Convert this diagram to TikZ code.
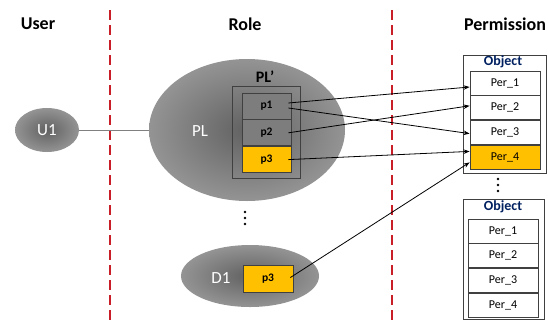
\documentclass[tikz,border=0pt]{standalone}
\usepackage{fontspec}
\setmainfont{Carlito}
\usetikzlibrary{shapes.geometric,arrows.meta,positioning}
\definecolor{permorange}{RGB}{255,192,0}
\definecolor{divred}{RGB}{200,30,40}
\definecolor{objblue}{RGB}{0,32,96}
\definecolor{boxgray}{RGB}{125,125,125}
\definecolor{edgegray}{RGB}{64,64,64}
\begin{document}
\begin{tikzpicture}[x=1pt, y=-1pt,
    head/.style = {font=\fontsize{18}{20}\selectfont\bfseries},
    divider/.style = {divred, line width=1.3pt, dash pattern=on 10pt off 5pt},
    roleell/.style = {ellipse, shading=radial, inner color=black!62, outer color=black!42, inner sep=0pt},
    whitelbl/.style = {text=white, font=\fontsize{17}{19}\selectfont},
    pbox/.style = {draw=edgegray, fill=boxgray, line width=0.8pt, minimum width=49pt, minimum height=26pt, inner sep=0pt, font=\fontsize{11.5}{13}\selectfont\bfseries},
    pyellow/.style = {pbox, fill=permorange},
    objframe/.style = {draw=edgegray, line width=0.8pt, minimum width=83pt, minimum height=118pt},
    objlbl/.style = {text=objblue, font=\fontsize{14}{16}\selectfont\bfseries, inner sep=0pt},
    perbox/.style = {draw=edgegray, fill=white, line width=0.8pt, minimum width=70pt, minimum height=24pt, inner sep=0pt, font=\fontsize{12}{14}\selectfont},
    peryellow/.style = {perbox, fill=permorange},
    arr/.style = {->, >={Stealth[length=6pt,width=4.5pt]}, line width=0.8pt}]
    \useasboundingbox (0,0) rectangle (548,322);
    % headers and dividers
    \node[head] (huser) at (38,24) {User};
    \node[head] (hrole) at (245,24) {Role};
    \node[head] (hperm) at (505,24) {Permission};
    \draw[divider] (110,10) -- (110,322);
    \draw[divider] (392,10) -- (392,322);
    % user and roles
    \node[roleell, minimum width=64pt, minimum height=44pt] (U1) at (47,130) {};
    \node[whitelbl] (U1lbl) at (47,130) {U1};
    \node[roleell, minimum width=196pt, minimum height=142pt] (PL) at (247,130) {};
    \node[whitelbl] (PLlbl) at (200,131) {PL};
    \draw[black!50, line width=0.7pt] (U1) -- (PL);
    \node[draw=edgegray, line width=1pt, minimum width=68pt, minimum height=92pt] (PLp) at (266.5,132) {};
    \node[font=\fontsize{16}{18}\selectfont\bfseries] (PLplbl) at (265,77) {PL’};
    \node[pbox] (p1) at (266.5,106) {p1};
    \node[pbox, below=0pt of p1] (p2) {p2};
    \node[pyellow, below=0pt of p2] (p3) {p3};
    \foreach \dy in {-6,0,6} \fill (245,218+\dy) circle (1.4pt);
    \node[roleell, minimum width=138pt, minimum height=62pt] (D1) at (250,276) {};
    \node[whitelbl] (D1lbl) at (221,278) {D1};
    \node[pyellow, minimum width=50pt, minimum height=27pt] (dp3) at (268,278.5) {p3};
    % permissions
    \node[objframe] (objA) at (504.5,114) {};
    \node[objlbl] (objAlbl) at (503,62) {Object};
    \node[perbox] (Per1) at (505,83) {Per\_1};
    \node[perbox, below=0pt of Per1] (Per2) {Per\_2};
    \node[perbox, below=0pt of Per2] (Per3) {Per\_3};
    \node[peryellow, below=0pt of Per3] (Per4) {Per\_4};
    \foreach \dy in {-6,0,6} \fill (498,185+\dy) circle (1.4pt);
    \node[objframe, minimum width=81pt, minimum height=120pt] (objB) at (503.5,259) {};
    \node[objlbl] (objBlbl) at (503,207) {Object};
    \node[perbox] (Qer1) at (503,231) {Per\_1};
    \node[perbox, below=0pt of Qer1] (Qer2) {Per\_2};
    \node[perbox, below=0pt of Qer2] (Qer3) {Per\_3};
    \node[perbox, below=0pt of Qer3] (Qer4) {Per\_4};
    % assignments
    \draw[arr] ([xshift=-3pt,yshift=3pt]p1.east) -- ([yshift=-4pt]Per1.west);
    \draw[arr] ([xshift=-3pt,yshift=-2pt]p1.east) -- ([yshift=-1pt]Per3.west);
    \draw[arr] ([xshift=-3pt]p2.east) -- ([yshift=2pt]Per2.west);
    \draw[arr] ([xshift=-3pt]p3.east) -- ([yshift=6pt]Per4.west);
    \draw[arr] ([xshift=-3pt,yshift=1pt]dp3.east) -- ([yshift=-5pt]Per4.west);
\end{tikzpicture}
\end{document}
